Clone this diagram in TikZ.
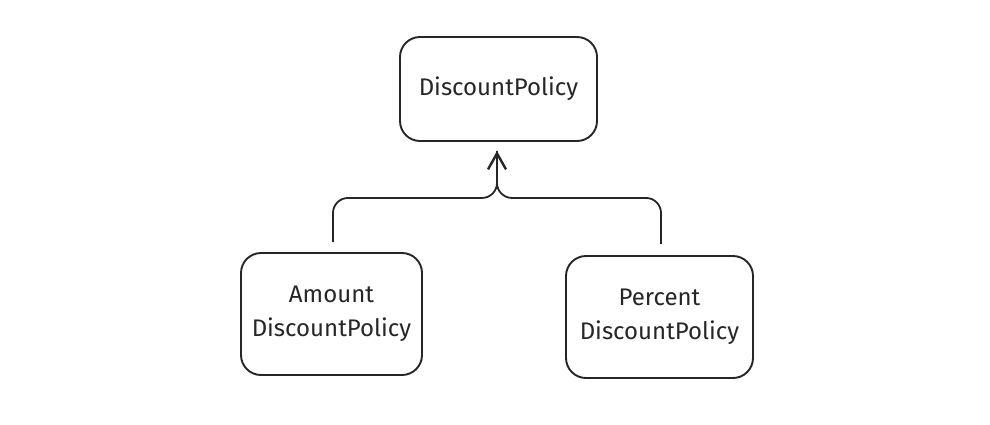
\documentclass[tikz,border=0pt]{standalone}
\usepackage{fontspec}
\setmainfont{Fira Sans}
\usetikzlibrary{arrows.meta,calc}
\begin{document}
\begin{tikzpicture}[x=1pt,y=-1pt,
  cls/.style={draw=black!85,line width=1.9pt,rounded corners=20pt,align=center,
    font=\fontsize{24}{34}\selectfont,text=black!85,inner sep=0pt},
  conn/.style={draw=black!85,line width=1.8pt,rounded corners=15pt}]
\useasboundingbox (0,0) rectangle (990,424);
\node[cls,minimum width=197pt,minimum height=104pt] (top) at (498.5,89) {DiscountPolicy};
\node[cls,minimum width=181pt,minimum height=122pt] (left) at (331.5,314) {Amount\\DiscountPolicy};
\node[cls,minimum width=187pt,minimum height=122pt] (right) at (659.5,317) {Percent\\DiscountPolicy};
\coordinate (tip) at ($(top.south)+(-1.5,9)$);
\coordinate (j) at ($(top.south)+(-1.5,56)$);
\coordinate (la) at ($(left.north)+(1.5,-10)$);
\coordinate (ra) at ($(right.north)+(1.5,-11)$);
\draw[conn] (la) |- (j) -- (tip);
\draw[conn,-{Straight Barb[length=16pt,width=18pt,line width=2.4pt]}] (ra) |- (j) -- (tip);
\end{tikzpicture}
\end{document}
